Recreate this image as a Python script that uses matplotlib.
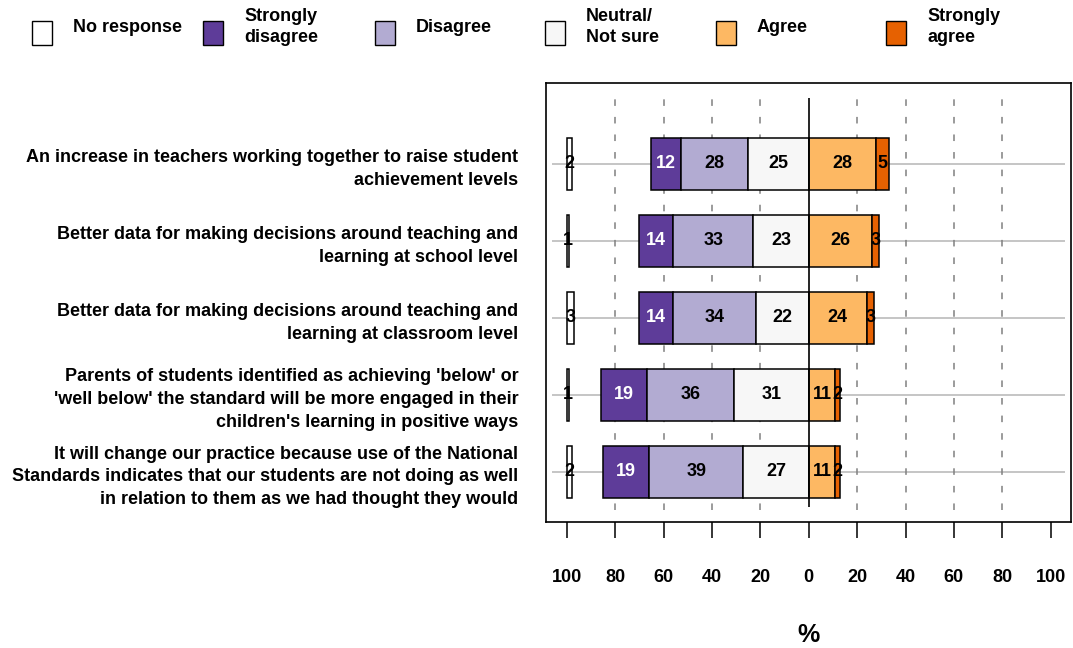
import numpy as np
import matplotlib.pyplot as plt
from matplotlib.patches import Rectangle

plt.rcParams['font.family'] = ['Liberation Sans', 'DejaVu Sans']
plt.rcParams['font.size'] = 13

statements = [
    'An increase in teachers working together to raise student\nachievement levels',
    'Better data for making decisions around teaching and\nlearning at school level',
    'Better data for making decisions around teaching and\nlearning at classroom level',
    "Parents of students identified as achieving 'below' or\n'well below' the standard will be more engaged in their\nchildren's learning in positive ways",
    'It will change our practice because use of the National\nStandards indicates that our students are not doing as well\nin relation to them as we had thought they would',
]
no_response = np.array([2, 1, 3, 1, 2])
strongly_disagree = np.array([12, 14, 14, 19, 19])
disagree = np.array([28, 33, 34, 36, 39])
neutral = np.array([25, 23, 22, 31, 27])
agree = np.array([28, 26, 24, 11, 11])
strongly_agree = np.array([5, 3, 3, 2, 2])

categories = ['No response', 'Strongly\ndisagree', 'Disagree', 'Neutral/\nNot sure', 'Agree', 'Strongly\nagree']
colors = ['#ffffff', '#5e3c99', '#b2abd2', '#f7f7f7', '#fdb863', '#e66101']
xticks = [-100, -80, -60, -40, -20, 0, 20, 40, 60, 80, 100]

W, H = 1073, 648
fig = plt.figure(figsize=(W / 100, H / 100), dpi=100)
ax = fig.add_axes([546 / W, 126 / H, 525 / W, 439 / H])

y = np.arange(len(statements))[::-1]
bh = 0.67

# reference lines
ax.hlines(y, -106, 106, color='#c0c0c0', lw=1.3, zorder=1)
for xv in [-80, -60, -40, -20, 20, 40, 60, 80]:
    ax.vlines(xv, -0.5, 4.85, color='#808080', lw=1.1, linestyle=(0, (4.3, 7.2)), zorder=1)

# segments: (left, width, color, text colour)
segs = [
    (np.full(5, -100), no_response, colors[0], 'black'),
    (-(neutral + disagree + strongly_disagree), strongly_disagree, colors[1], 'white'),
    (-(neutral + disagree), disagree, colors[2], 'black'),
    (-neutral, neutral, colors[3], 'black'),
    (np.zeros(5), agree, colors[4], 'black'),
    (agree, strongly_agree, colors[5], 'black'),
]
for left, width, col, tcol in segs:
    ax.barh(y, width, left=left, height=bh, color=col, edgecolor='black', lw=1.1, zorder=2)
    for yi, l, w in zip(y, left, width):
        ax.text(l + w / 2, yi, str(w), ha='center', va='center', color=tcol,
                fontsize=13, fontweight='bold', zorder=4)

ax.vlines(0, -0.45, 4.85, color='black', lw=1.2, zorder=3)

ax.set_xlim(-108.6, 108.4)
ax.set_ylim(-0.65, 5.05)
ax.set_xticks(xticks)
ax.set_xticklabels([str(abs(t)) for t in xticks], fontweight='bold')
ax.set_yticks(y)
ax.set_yticklabels(statements, fontweight='bold', linespacing=1.45)
ax.tick_params(axis='x', length=11.5, width=1.1, pad=22)
ax.tick_params(axis='y', length=0, pad=20)
for s in ax.spines.values():
    s.set_linewidth(1.2)
ax.set_xlabel('%', fontsize=18, fontweight='bold', labelpad=27)

# legend across the top
box_x = [32, 203, 375, 545, 716, 886]
for bx, lab, col in zip(box_x, categories, colors):
    fig.add_artist(Rectangle((bx / W, 1 - 45 / H), 20 / W, 24 / H, transform=fig.transFigure,
                             facecolor=col, edgecolor='black', lw=1.0))
    fig.text((bx + 41) / W, 1 - 27 / H, lab, ha='left', va='center', fontsize=13,
             fontweight='bold', linespacing=1.3)

fig.savefig('out.png', dpi=100)
